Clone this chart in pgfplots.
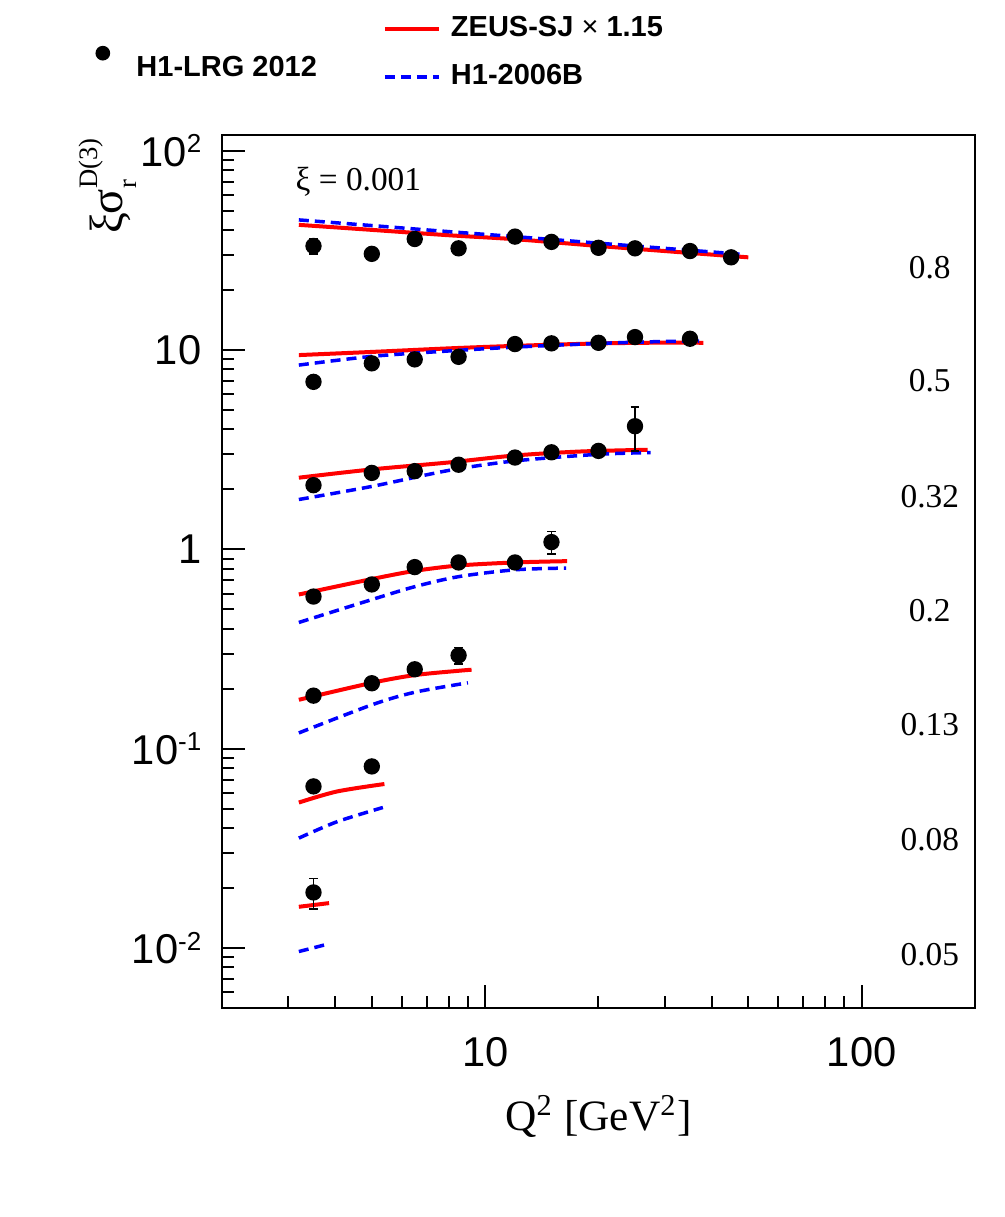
\documentclass[border=0pt]{standalone}
\usepackage{fontspec}
\setmainfont{Liberation Serif}
\setsansfont{Liberation Sans}
\usepackage{pgfplots}
\pgfplotsset{compat=1.18}

\definecolor{zeusred}{rgb}{1,0,0}
\definecolor{hblue}{rgb}{0,0,1}

% raised small exponent for the tick labels
\newcommand{\sups}[1]{\raisebox{4pt}{\fontsize{7.8}{7.8}\selectfont #1}}

\pgfplotsset{
  zeus/.style={draw=zeusred, line width=1.2pt, no markers, smooth, forget plot},
  hsix/.style={draw=hblue, line width=1.05pt, no markers, smooth, dash pattern=on 3pt off 1.8pt, forget plot},
  lrg/.style={only marks, mark=*, mark size=2.25pt, black, forget plot,
    mark options={fill=black, draw=black, solid},
    error bars/.cd, y dir=both, y explicit, error mark=-,
    error bar style={line width=0.45pt, black, solid},
    error mark options={rotate=90, line width=0.45pt, mark size=1.3pt, black}},
}

\begin{document}
\begin{tikzpicture}
\useasboundingbox (-66.6pt,-62.7pt) rectangle (234.9pt,302.4pt);
\begin{axis}[
  at={(0pt,0pt)}, anchor=south west,
  scale only axis, width=225.9pt, height=261.9pt,
  xmode=log, ymode=log,
  xmin=2, xmax=200, ymin=0.005, ymax=120,
  axis line style={line width=0.6pt},
  every tick/.style={black, line width=0.6pt},
  major tick length=7pt, minor tick length=3.6pt,
  tick align=inside,
  xtick pos=bottom, ytick pos=left,
  xtick={10,100}, xticklabels={10,100},
  minor xtick={3,4,5,6,7,8,9,20,30,40,50,60,70,80,90},
  ytick={0.01,0.1,1,10,100},
  yticklabels={10\sups{-2},10\sups{-1},1,10,10\sups{2}},
  minor ytick={0.006,0.007,0.008,0.009,0.02,0.03,0.04,0.05,0.06,0.07,0.08,0.09,
               0.2,0.3,0.4,0.5,0.6,0.7,0.8,0.9,2,3,4,5,6,7,8,9,20,30,40,50,60,70,80,90},
  tick label style={font=\sffamily\fontsize{12.5}{12.5}\selectfont},
  xticklabel style={anchor=north, inner sep=0pt, yshift=-8.7pt},
  yticklabel style={anchor=east, inner sep=0pt, xshift=-6pt},
  xlabel={Q\textsuperscript{2} [GeV\textsuperscript{2}]},
  xlabel style={font=\fontsize{13}{13}\selectfont, at={(axis description cs:0.5,0)},
                anchor=base, yshift=-36.6pt, inner sep=0pt},
  ylabel={{\fontsize{14}{14}\selectfont ξσ}\rlap{\fontsize{8}{8}\selectfont\raisebox{-4pt}{r}}{\fontsize{8}{8}\selectfont\raisebox{7.5pt}{D(3)}}},
  ylabel style={at={(axis description cs:-0.1315,0.9966)}, anchor=base east, inner sep=0pt},
  legend image code/.code={\draw[#1] (0pt,0pt) -- (16.2pt,0pt);},
  legend cell align=left,
  legend style={draw=none, fill=none, inner sep=0pt, outer sep=0pt,
    row sep=6.9pt, column sep=3pt,
    at={(axis description cs:0.2138,1.0939)}, anchor=west,
    font=\sffamily\bfseries\fontsize{8.7}{8.7}\selectfont,
    nodes={inner sep=0pt}},
]

% ---- xi = 0.8 ----
\addplot[zeus] coordinates {(3.2,42.5) (5,40.1) (8,37.7) (12,36.0) (20,33.3) (30,31.4) (50,29.2)};
\addplot[hsix] coordinates {(3.2,45.0) (5,42.15) (8,39.3) (12,37.1) (20,34.4) (30,32.4) (47.5,30.3)};
% ---- xi = 0.5 ----
\addplot[zeus] coordinates {(3.2,9.44) (5,9.79) (8,10.2) (12,10.5) (20,10.8) (30,10.9) (38,10.88)};
\addplot[hsix] coordinates {(3.2,8.41) (5,9.3) (8,9.9) (12,10.35) (20,10.8) (30,11.05) (37,11.1)};
% ---- xi = 0.32 ----
\addplot[zeus] coordinates {(3.2,2.29) (5,2.52) (8,2.73) (12,2.96) (18,3.10) (27,3.16)};
\addplot[hsix] coordinates {(3.2,1.78) (5,2.07) (8,2.49) (12,2.78) (20,3.0) (27.5,3.06)};
% ---- xi = 0.2 ----
\addplot[zeus] coordinates {(3.2,0.594) (5,0.71) (6.5,0.78) (8.5,0.83) (12,0.86) (16.5,0.873)};
\addplot[hsix] coordinates {(3.2,0.43) (5,0.56) (6.5,0.65) (8.5,0.73) (12,0.79) (16.4,0.806)};
% ---- xi = 0.13 ----
\addplot[zeus] coordinates {(3.2,0.176) (5,0.214) (6.5,0.234) (8.5,0.246) (9.2,0.249)};
\addplot[hsix] coordinates {(3.2,0.120) (5,0.166) (6.5,0.192) (9.0,0.214)};
% ---- xi = 0.08 ----
\addplot[zeus] coordinates {(3.2,0.0537) (4.04,0.061) (5.4,0.0665)};
\addplot[hsix] coordinates {(3.2,0.0356) (4.04,0.043) (5.35,0.0507)};
% ---- xi = 0.05 ----
\addplot[zeus] coordinates {(3.2,0.0161) (3.85,0.0168)};
\addplot[hsix] coordinates {(3.2,0.0096) (3.85,0.0105)};

% ---- H1-LRG 2012 data ----
\addplot[lrg] coordinates {(3.5,33.3) +- (0,3.0) (5,30.4) +- (0,1.6) (6.5,36.1) +- (0,1.4)
  (8.5,32.4) +- (0,1.6) (12,37.1) +- (0,1.2) (15,34.9) +- (0,1.1) (20,32.6) +- (0,1.0)
  (25,32.4) +- (0,1.0) (35,31.4) +- (0,1.0) (45,29.2) +- (0,1.0)};
\addplot[lrg] coordinates {(3.5,6.93) +- (0,0.3) (5,8.58) +- (0,0.3) (6.5,8.98) +- (0,0.3)
  (8.5,9.25) +- (0,0.35) (12,10.72) +- (0,0.4) (15,10.81) +- (0,0.4) (20,10.88) +- (0,0.4)
  (25,11.62) +- (0,0.5) (35,11.40) +- (0,0.5)};
\addplot[lrg] coordinates {(3.5,2.10) +- (0,0.08) (5,2.42) +- (0,0.09) (6.5,2.47) +- (0,0.09)
  (8.5,2.66) +- (0,0.1) (12,2.89) +- (0,0.1) (15,3.07) +- (0,0.12) (20,3.12) +- (0,0.14)
  (25,4.15) +- (0,1.03)};
\addplot[lrg] coordinates {(3.5,0.58) +- (0,0.02) (5,0.667) +- (0,0.025) (6.5,0.815) +- (0,0.03)
  (8.5,0.86) +- (0,0.035) (12,0.86) +- (0,0.04) (15,1.088) +- (0,0.14)};
\addplot[lrg] coordinates {(3.5,0.1846) +- (0,0.007) (5,0.213) +- (0,0.008)
  (6.5,0.2503) +- (0,0.01) (8.5,0.294) +- (0,0.028)};
\addplot[lrg] coordinates {(3.5,0.0647) +- (0,0.003) (5,0.0815) +- (0,0.004)};
\addplot[lrg] coordinates {(3.5,0.0190) +- (0,0.0033)};

\addlegendimage{draw=zeusred, line width=1.2pt}
\addlegendentry{ZEUS-SJ {\mdseries ×} 1.15}
\addlegendimage{draw=hblue, line width=1.05pt, dash pattern=on 3pt off 1.8pt}
\addlegendentry{H1-2006B}

% bin labels
\node[font=\fontsize{10}{10}\selectfont, anchor=base west, inner sep=0pt]
  at (rel axis cs:0.097,0.937) {ξ = 0.001};
\begin{scope}[every node/.style={font=\fontsize{10}{10}\selectfont, anchor=center, inner sep=0pt}]
\node at (rel axis cs:0.940,0.8477) {0.8};
\node at (rel axis cs:0.940,0.7182) {0.5};
\node at (rel axis cs:0.940,0.5853) {0.32};
\node at (rel axis cs:0.940,0.4548) {0.2};
\node at (rel axis cs:0.940,0.3242) {0.13};
\node at (rel axis cs:0.940,0.1924) {0.08};
\node at (rel axis cs:0.940,0.0607) {0.05};
\end{scope}
\end{axis}

% separate legend for the data points
\begin{axis}[
  at={(0pt,0pt)}, anchor=south west,
  scale only axis, width=225.9pt, height=261.9pt,
  hide axis, xmin=0, xmax=1, ymin=0, ymax=1,
  legend image code/.code={\fill[black] (2pt,4.75pt) circle (2pt);},
  legend cell align=left,
  legend style={draw=none, fill=none, inner sep=0pt, outer sep=0pt, column sep=7.9pt,
    at={(axis description cs:-0.168,1.0816)}, anchor=west,
    font=\sffamily\bfseries\fontsize{8.7}{8.7}\selectfont,
    nodes={inner sep=0pt}},
]
\addlegendimage{black}
\addlegendentry{H1-LRG 2012}
\end{axis}
\end{tikzpicture}
\end{document}
